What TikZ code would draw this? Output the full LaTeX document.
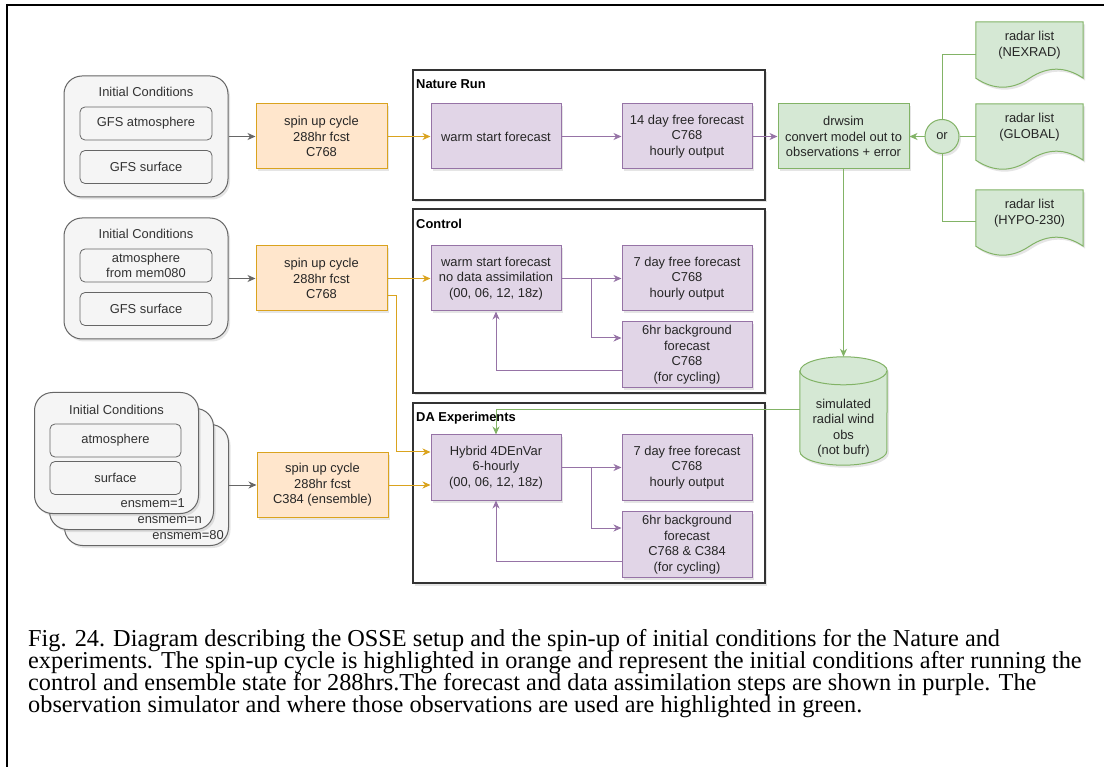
\documentclass[tikz,border=0pt]{standalone}
\usepackage{fontspec}
\setmainfont{Liberation Sans}
\newfontfamily\capfont{Liberation Serif}
\usetikzlibrary{positioning,arrows.meta,calc,shadows,backgrounds}

\definecolor{icfill}{HTML}{F5F5F5}
\definecolor{icdraw}{HTML}{666666}
\definecolor{ictext}{HTML}{333333}
\definecolor{spfill}{HTML}{FFE6CC}
\definecolor{spdraw}{HTML}{DAA31E}
\definecolor{rnfill}{HTML}{E1D5E7}
\definecolor{rndraw}{HTML}{9673A6}
\definecolor{obfill}{HTML}{D5E8D4}
\definecolor{obdraw}{HTML}{82B366}

\newcommand{\dfont}{\fontsize{12.9}{15.5}\selectfont}

% wavy document outline round a text node
\newcommand{\docshape}[1]{%
  \path[docstyle] (#1.north west) -- (#1.north east) -- ($(#1.south east)+(0,-10pt)$)
    .. controls ($(#1.south east)+(-17.8pt,2pt)$) and ($(#1.south east)+(-35.7pt,2pt)$) .. ($(#1.south)+(0,-10pt)$)
    .. controls ($(#1.south)+(-17.8pt,-22pt)$) and ($(#1.south west)+(17.8pt,-22pt)$) .. ($(#1.south west)+(0,-10pt)$) -- cycle;}

\begin{document}
\begin{tikzpicture}[x=1pt, y=-1pt,
    boxshadow/.style={drop shadow={shadow xshift=2pt, shadow yshift=-2.5pt, opacity=0.2}},
    icbox/.style={draw=icdraw, fill=icfill, rounded corners=18pt, line width=1pt, minimum width=164pt, minimum height=121pt, boxshadow},
    icitem/.style={draw=icdraw, fill=icfill, rounded corners=5pt, line width=0.8pt, minimum width=132pt, minimum height=33pt, inner sep=0pt, font=\dfont, text=ictext, align=center},
    ictitle/.style={font=\dfont, text=ictext},
    enslbl/.style={font=\dfont, text=ictext, anchor=east, inner sep=0pt},
    spinbox/.style={draw=spdraw, fill=spfill, line width=1pt, minimum width=131pt, minimum height=65pt, font=\dfont, text=black!85, align=center, boxshadow},
    runbox/.style={draw=rndraw, fill=rnfill, line width=1pt, minimum width=130pt, minimum height=65pt, font=\dfont, text=black!85, align=center, boxshadow},
    obsbox/.style={draw=obdraw, fill=obfill, line width=1pt, minimum width=131pt, minimum height=65pt, font=\dfont, text=black!85, align=center, boxshadow},
    orbox/.style={circle, draw=obdraw, fill=obfill, line width=1pt, minimum size=34pt, inner sep=0pt, font=\dfont, text=black!85, boxshadow},
    doc/.style={minimum width=107pt, minimum height=46pt, inner sep=0pt, font=\dfont, text=black!85, align=center},
    docstyle/.style={draw=obdraw, fill=obfill, line width=1pt, boxshadow},
    cyltext/.style={minimum width=87pt, minimum height=74pt, inner sep=0pt, font=\dfont, text=black!85, align=center},
    cylstyle/.style={draw=obdraw, fill=obfill, line width=1pt, boxshadow},
    panel/.style={draw=black!80, line width=1.3pt, fill=white, minimum width=352pt, boxshadow},
    panellbl/.style={font=\dfont\bfseries, anchor=west, inner sep=0pt},
    tip/.style={-{Stealth[length=8pt, width=7pt, inset=2.5pt]}},
    grayflow/.style={tip, draw=icdraw, line width=1pt},
    spinflow/.style={tip, draw=spdraw, line width=1pt},
    runflow/.style={tip, draw=rndraw, line width=1pt},
    obsflow/.style={tip, draw=obdraw, line width=1pt},
    obsline/.style={draw=obdraw, line width=1pt},
    captxt/.style={anchor=base west, inner sep=0pt, font=\capfont\fontsize{24.3}{22}\selectfont}
]
    \begin{scope}[on background layer]
        \fill[white] (0,0) rectangle (1104,767);
    \end{scope}
    \useasboundingbox (0,0) rectangle (1104,767);

    % page frame
    \draw[line width=1.5pt] (6,5) -- (1104,5);
    \draw[line width=2.5pt] (7,4) -- (7,767);

    % containers
    \node[panel, minimum height=130pt] (nature) at (589,135) {};
    \node[panel, minimum height=184pt] (control) at (589,301) {};
    \node[panel, minimum height=180pt] (daexp) at (589,493) {};
    \node[panellbl] (naturelbl) at (416,84) {Nature Run};
    \node[panellbl] (controllbl) at (416,224) {Control};
    \node[panellbl] (daexplbl) at (416,418) {DA Experiments};

    % initial conditions
    \node[icbox] (ic1) at (146,136.5) {};
    \node[ictitle] (ic1t) at (146,92) {Initial Conditions};
    \node[icitem] (ic1a) at (146,123.5) {GFS atmosphere};
    \node[icitem] (ic1b) at (146,167) {GFS surface};

    \node[icbox] (ic2) at (146,278.5) {};
    \node[ictitle] (ic2t) at (146,234) {Initial Conditions};
    \node[icitem] (ic2a) at (146,265.5) {atmosphere\\from mem080};
    \node[icitem] (ic2b) at (146,309) {GFS surface};

    \node[icbox] (ic3c) at (146.5,485) {};
    \node[icbox] (ic3b) at (131.5,469) {};
    \node[icbox] (ic3a) at (116.5,453) {};
    \node[ictitle] (ic3t) at (116.5,410) {Initial Conditions};
    \node[icitem, minimum width=131pt] (ic3x) at (115.5,440.5) {atmosphere};
    \node[icitem, minimum width=131pt] (ic3y) at (115.5,478) {surface};
    \node[enslbl] (ens1) at (185,503) {ensmem=1};
    \node[enslbl] (ensn) at (202,520) {ensmem=n};
    \node[enslbl] (ens80) at (224,535) {ensmem=80};

    % spin up
    \node[spinbox] (spin1) at (321.5,136.5) {spin up cycle\\288hr fcst\\C768};
    \node[spinbox] (spin2) at (321.5,278.5) {spin up cycle\\288hr fcst\\C768};
    \node[spinbox] (spin3) at (322.5,485) {spin up cycle\\288hr fcst\\C384 (ensemble)};

    % forecasts
    \node[runbox] (warm1) at (496,136.5) {warm start forecast};
    \node[runbox] (free1) at (687,136.5) {14 day free forecast\\C768\\hourly output};
    \node[runbox] (warm2) at (496,278.5) {warm start forecast\\no data assimilation\\(00, 06, 12, 18z)};
    \node[runbox] (free2) at (687,278.5) {7 day free forecast\\C768\\hourly output};
    \node[runbox] (bg2) at (687,354.5) {6hr background\\forecast\\C768\\(for cycling)};
    \node[runbox] (hybrid) at (496,467.5) {Hybrid 4DEnVar\\6-hourly\\(00, 06, 12, 18z)};
    \node[runbox] (free3) at (687,467.5) {7 day free forecast\\C768\\hourly output};
    \node[runbox] (bg3) at (687,544.5) {6hr background\\forecast\\C768 \& C384\\(for cycling)};

    % observation simulator
    \node[obsbox] (drwsim) at (843.5,136.5) {drwsim\\convert model out to\\observations + error};
    \node[orbox] (orsel) at (942,136.5) {or};
    \node[doc] (nexrad) at (1029.5,45) {radar list\\(NEXRAD)};
    \node[doc] (global) at (1029.5,127) {radar list\\(GLOBAL)};
    \node[doc] (hypo) at (1029.5,213) {radar list\\(HYPO-230)};
    \node[cyltext] (simobs) at (843.5,428) {simulated\\radial wind\\obs\\(not bufr)};
    \coordinate (simtop) at ($(simobs.north)+(0,34pt)$);

    \begin{scope}[on background layer]
        \docshape{nexrad}
        \docshape{global}
        \docshape{hypo}
        \path[cylstyle] ($(simobs.north west)+(0,20pt)$) -- ($(simobs.south west)+(0,14pt)$)
            arc[start angle=180, end angle=360, x radius=43.5pt, y radius=14pt]
            -- ($(simobs.north east)+(0,20pt)$)
            arc[start angle=0, end angle=180, x radius=43.5pt, y radius=14pt] -- cycle;
        \draw[obsline] ($(simobs.north west)+(0,20pt)$) arc[start angle=180, end angle=360, x radius=43.5pt, y radius=14pt];
    \end{scope}

    % connectors
    \draw[grayflow] (ic1) -- (spin1);
    \draw[grayflow] (ic2) -- (spin2);
    \draw[grayflow] (ic3c) -- (spin3);

    \draw[spinflow] (spin1) -- (warm1);
    \draw[spinflow] (spin2) -- (warm2);
    \draw[spinflow] ([yshift=-17pt]spin2.east) -- ++(9pt,0) |- ([yshift=15.5pt]hybrid.west);
    \draw[spinflow] (spin3.east) -- (spin3.east -| hybrid.west);

    \coordinate (split2) at ($(warm2.east)!0.5!(free2.west)$);
    \coordinate (split3) at ($(hybrid.east)!0.5!(free3.west)$);
    \draw[runflow] (warm1) -- (free1);
    \draw[runflow] (free1) -- (drwsim);
    \draw[runflow] (warm2) -- (free2);
    \draw[runflow] (split2) |- ([yshift=16.5pt]bg2.west);
    \draw[runflow] ([yshift=-16.5pt]bg2.west) -| (warm2.south);
    \draw[runflow] (hybrid) -- (free3);
    \draw[runflow] (split3) |- ([yshift=16.5pt]bg3.west);
    \draw[runflow] ([yshift=-16.5pt]bg3.west) -| (hybrid.south);

    \draw[obsflow] (orsel) -- (drwsim);
    \draw[obsline] (orsel.north) |- ([yshift=-10pt]nexrad.west);
    \draw[obsline] (orsel.east) -- (orsel.east -| global.west);
    \draw[obsline] (orsel.south) |- ([yshift=-9pt]hypo.west);
    \draw[obsflow] (drwsim) -- (simtop);
    \draw[obsflow] ([yshift=18pt]simobs.west) -| (hybrid.north);

    % caption
    \node[captxt] (cap1) at (28,646) {Fig. 24. Diagram describing the OSSE setup and the spin-up of initial conditions for the Nature and};
    \node[captxt] (cap2) at (28,668) {experiments. The spin-up cycle is highlighted in orange and represent the initial conditions after running the};
    \node[captxt] (cap3) at (28,690) {control and ensemble state for 288hrs.The forecast and data assimilation steps are shown in purple. The};
    \node[captxt] (cap4) at (28,712) {observation simulator and where those observations are used are highlighted in green.};
\end{tikzpicture}
\end{document}
